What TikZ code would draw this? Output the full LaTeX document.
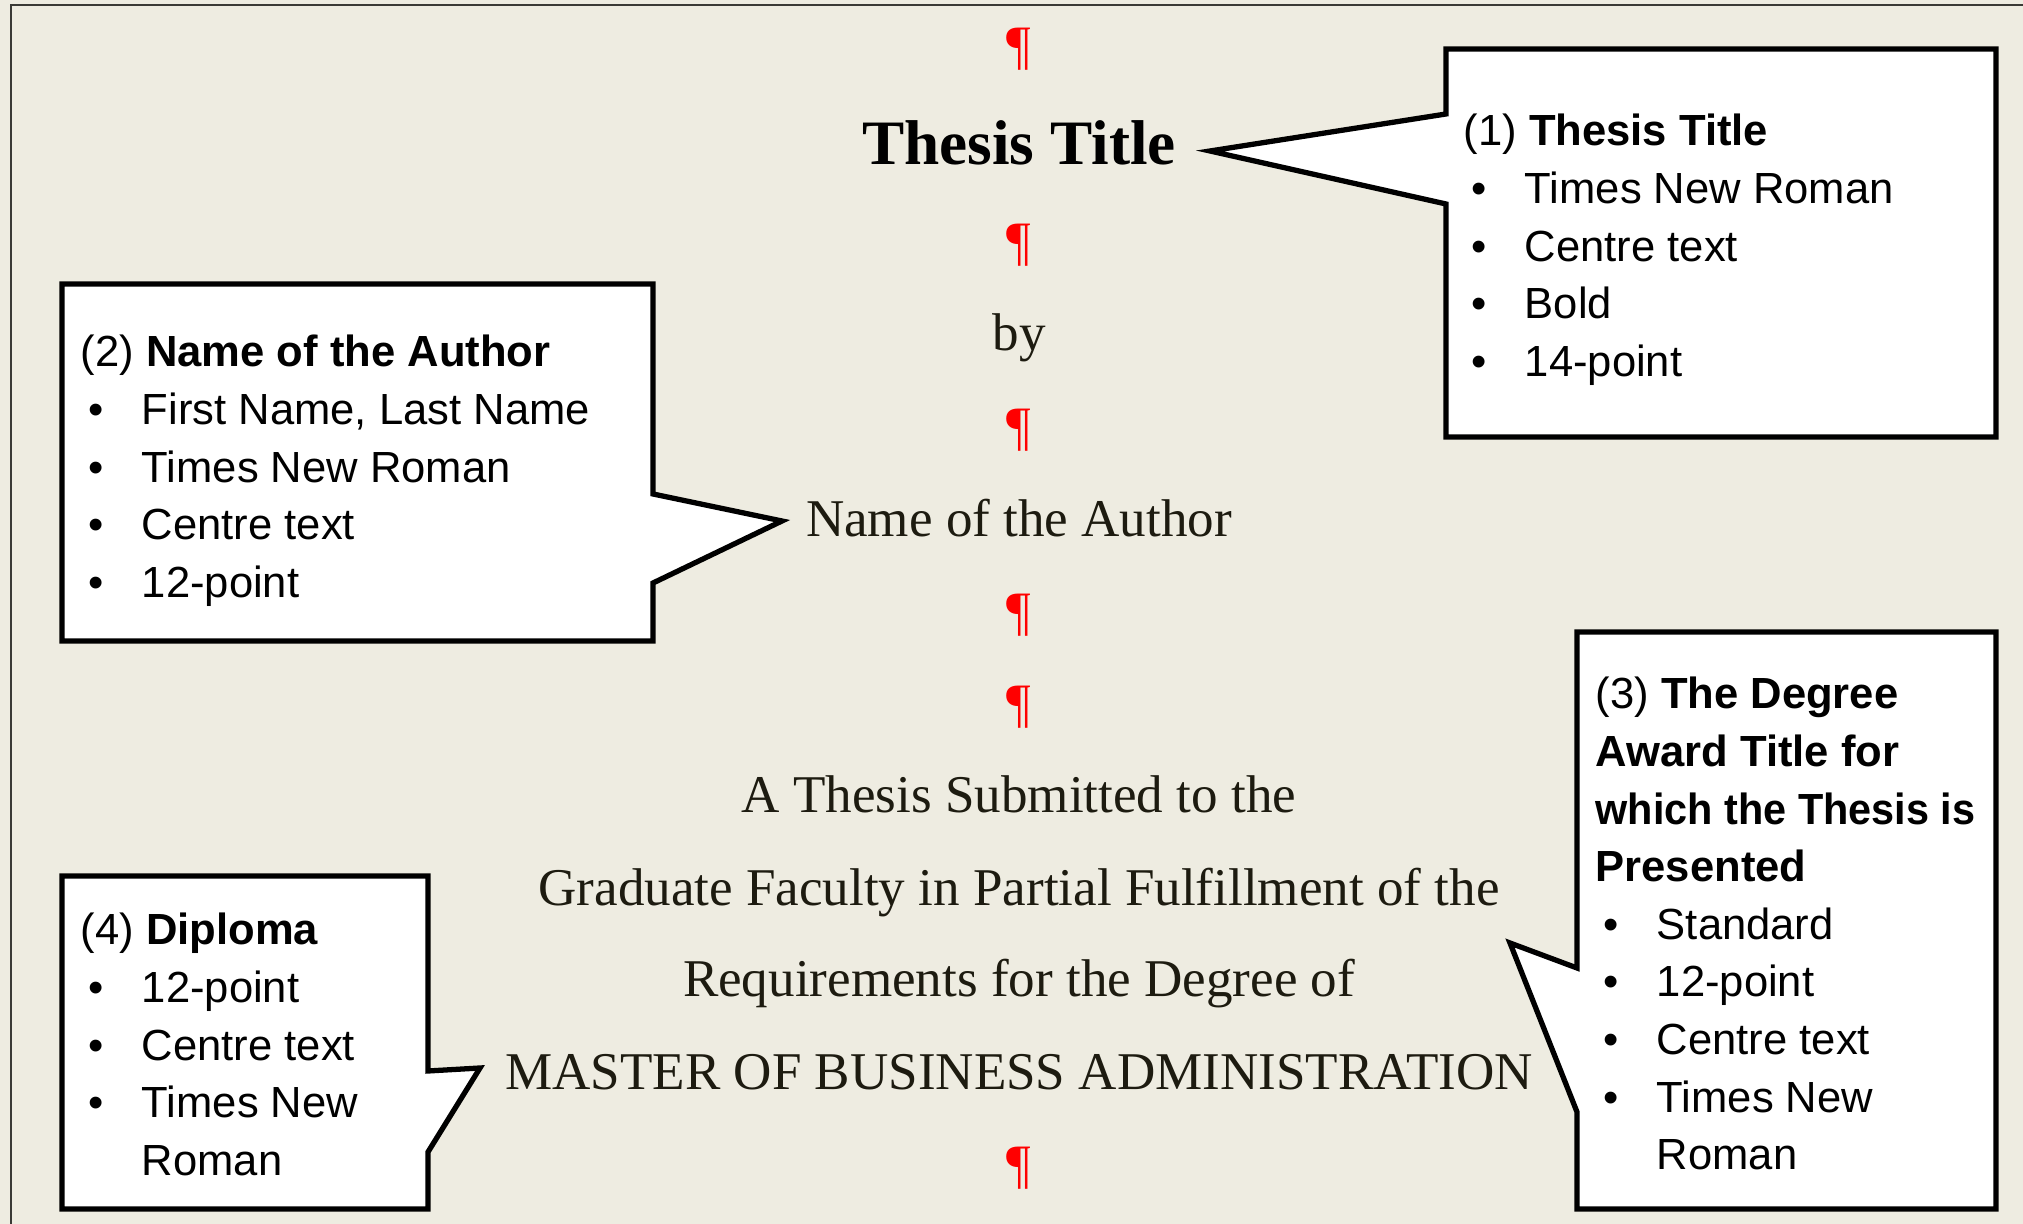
\documentclass[tikz,border=0pt]{standalone}
\usepackage{fontspec}
\setmainfont{Liberation Serif}
\newfontfamily\notefont{Liberation Sans}
\usetikzlibrary{positioning}
\definecolor{paper}{HTML}{EEECE1}
\definecolor{ink}{HTML}{1D1B10}
\definecolor{mark}{HTML}{FF0000}
\definecolor{edge}{HTML}{3A3A36}
\newcommand{\bitem}[1]{\hspace*{2.3pt}\makebox[15.1pt][l]{\textbullet}#1}
\newcommand{\bcont}[1]{\hspace*{17.4pt}#1}
\tikzset{body/.style={font=\fontsize{15.1}{18}\selectfont,text=ink,inner sep=0pt,anchor=base},
         headline/.style={font=\fontsize{18}{22}\selectfont\bfseries,inner sep=0pt,anchor=base},
         pil/.style={font=\fontsize{15.4}{18}\selectfont,text=mark,inner sep=0pt},
         note/.style={font=\notefont\fontsize{12.4}{16.4}\selectfont,align=left,inner sep=0pt,anchor=north west},
         callout/.style={draw=black,fill=white,line width=1.5pt,line join=miter},
         }
\begin{document}
\begin{tikzpicture}
\fill[paper] (0,0) rectangle (20.23,12.24);
\useasboundingbox (0,0) rectangle (20.23,12.24);
\draw[edge,line width=0.6pt] (0.11,0) -- (0.11,12.19) -- (20.23,12.19);

% centre column
\node[pil] (p1) at (10.19,11.75) {¶};
\node[headline] (ttl) at (10.19,10.59) {Thesis Title};
\node[pil] (p2) at (10.19,9.79) {¶};
\node[body] (by) at (10.19,8.73) {by};
\node[pil] (p3) at (10.19,7.94) {¶};
\node[body] (auth) at (10.19,6.87) {Name of the Author};
\node[pil] (p4) at (10.19,6.09) {¶};
\node[pil] (p5) at (10.19,5.17) {¶};
\node[body] (l1) at (10.19,4.11) {A Thesis Submitted to the};
\node[body] (l2) at (10.19,3.18) {Graduate Faculty in Partial Fulfillment of the};
\node[body] (l3) at (10.19,2.27) {Requirements for the Degree of};
\node[body] (deg) at (10.19,1.34) {MASTER OF BUSINESS ADMINISTRATION};
\node[pil] (p6) at (10.19,0.56) {¶};

% callout 1
\coordinate (tip1) at (12.10,10.73);
\draw[callout] (14.46,11.75) -- (19.96,11.75) -- (19.96,7.87) -- (14.46,7.87)
  -- (14.46,10.20) -- (tip1) -- (14.46,11.10) -- cycle;
\node[note] (n1) at (14.63,11.105) {(1) \textbf{Thesis Title}\\
  \bitem{Times New Roman}\\
  \bitem{Centre text}\\
  \bitem{Bold}\\
  \bitem{14-point}};

% callout 2
\coordinate (tip2) at (7.82,7.03);
\draw[callout] (0.62,9.40) -- (6.53,9.40) -- (6.53,7.30) -- (tip2) -- (6.53,6.41)
  -- (6.53,5.83) -- (0.62,5.83) -- cycle;
\node[note] (n2) at (0.80,8.895) {(2) \textbf{Name of the Author}\\
  \bitem{First Name, Last Name}\\
  \bitem{Times New Roman}\\
  \bitem{Centre text}\\
  \bitem{12-point}};

% callout 3
\coordinate (tip3) at (15.10,2.81);
\draw[callout] (15.77,5.92) -- (19.96,5.92) -- (19.96,0.15) -- (15.77,0.15)
  -- (15.77,1.12) -- (tip3) -- (15.77,2.56) -- cycle;
\node[note] (n3) at (15.95,5.475) {(3) \textbf{The Degree}\\
  \textbf{Award Title for}\\
  \scalebox{0.95}[1]{\textbf{which the Thesis is}}\\
  \textbf{Presented}\\
  \bitem{Standard}\\
  \bitem{12-point}\\
  \bitem{Centre text}\\
  \bitem{Times New}\\
  \bcont{Roman}};

% callout 4
\coordinate (tip4) at (4.80,1.56);
\draw[callout] (0.62,3.48) -- (4.28,3.48) -- (4.28,1.53) -- (tip4) -- (4.28,0.72)
  -- (4.28,0.15) -- (0.62,0.15) -- cycle;
\node[note] (n4) at (0.80,3.115) {(4) \textbf{Diploma}\\
  \bitem{12-point}\\
  \bitem{Centre text}\\
  \bitem{Times New}\\
  \bcont{Roman}};
\end{tikzpicture}
\end{document}
